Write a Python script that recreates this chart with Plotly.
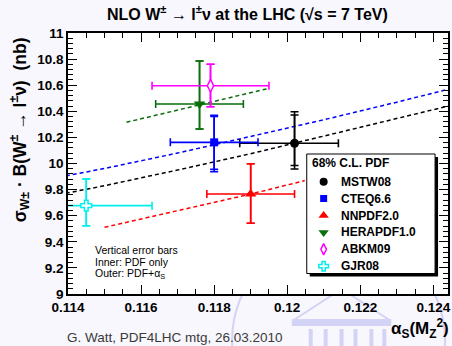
import plotly.graph_objects as go

# ---- data -------------------------------------------------------------
pdf_sets = ["MSTW08", "CTEQ6.6", "NNPDF2.0", "HERAPDF1.0", "ABKM09", "GJR08"]
alphas = [0.1202, 0.1180, 0.1190, 0.1176, 0.1179, 0.1145]
alphas_err_plus = [0.0012, 0.0012, 0.0012, 0.0012, 0.0016, 0.0018]
alphas_err_minus = [0.0015, 0.0012, 0.0012, 0.0012, 0.0016, 0.0018]
sigma_nb = [10.155, 10.162, 9.766, 10.456, 10.596, 9.677]
# outer: PDF + alpha_S, inner: PDF only
outer_plus = [0.242, 0.208, 0.232, 0.329, 0.164, 0.204]
outer_minus = [0.197, 0.225, 0.224, 0.192, 0.161, 0.154]
inner_plus = [0.217, 0.198, 0.232, 0.329, 0.164, 0.204]
inner_minus = [0.170, 0.207, 0.224, 0.192, 0.161, 0.154]

# alpha_S dependence of the cross section for each PDF set
mstw_as = [0.113, 0.115, 0.117, 0.119, 0.121, 0.123, 0.125]
mstw_sigma = [9.72, 9.83, 9.95, 10.075, 10.21, 10.345, 10.48]
cteq_as = [0.113, 0.115, 0.117, 0.119, 0.121, 0.123, 0.125]
cteq_sigma = [9.855, 9.962, 10.08, 10.205, 10.335, 10.47, 10.61]
nnpdf_as = [0.115, 0.117, 0.119, 0.121, 0.123]
nnpdf_sigma = [9.511, 9.637, 9.766, 9.905, 10.05]
hera_as = [0.1156, 0.1176, 0.1195]
hera_sigma = [10.316, 10.45, 10.576]

x_ticks = [0.114, 0.116, 0.118, 0.120, 0.122, 0.124]
x_ticktext = ["0.114", "0.116", "0.118", "0.12", "0.122", "0.124"]
y_ticks = [9.0, 9.2, 9.4, 9.6, 9.8, 10.0, 10.2, 10.4, 10.6, 10.8, 11.0]
y_ticktext = ["9", "9.2", "9.4", "9.6", "9.8", "10", "10.2", "10.4", "10.6", "10.8", "11"]

# ---- styles -----------------------------------------------------------
colors = ["#000000", "#0000ff", "#ff0000", "#0b6e0b", "#ff00ff", "#00eeee"]
symbols = ["circle", "square", "triangle-up", "triangle-down", "diamond-tall", "cross"]
sizes = [9, 8, 10, 10, 9, 9]
open_marker = [False, False, False, False, True, True]

W, H = 452, 346
L, R, T, B = 68, 450, 33, 294
FONT = "Liberation Sans"


def px_x(p):
    return (p - L) / (R - L)


def px_y(p):
    return (B - p) / (B - T)


def bold(labels):
    return ["<b>" + s + "</b>" for s in labels]


fig = go.Figure()

# dashed alpha_S-dependence curves
for xs, ys, col in [
    (hera_as, hera_sigma, colors[3]),
    (cteq_as, cteq_sigma, colors[1]),
    (mstw_as, mstw_sigma, colors[0]),
    (nnpdf_as, nnpdf_sigma, colors[2]),
]:
    fig.add_trace(go.Scatter(
        x=xs, y=ys, mode="lines", showlegend=False, hoverinfo="skip",
        line=dict(color=col, width=1.5, dash="4px,3px"),
    ))

# error bars (outer, then inner) and central points
for i, name in enumerate(pdf_sets):
    col = colors[i]
    fig.add_trace(go.Scatter(
        x=[alphas[i]], y=[sigma_nb[i]], mode="markers", showlegend=False,
        marker=dict(size=1, color="rgba(0,0,0,0)"),
        error_x=dict(type="data", symmetric=False,
                     array=[alphas_err_plus[i]], arrayminus=[alphas_err_minus[i]],
                     color=col, thickness=1.6, width=4),
        error_y=dict(type="data", symmetric=False,
                     array=[outer_plus[i]], arrayminus=[outer_minus[i]],
                     color=col, thickness=1.6, width=4),
    ))
    fig.add_trace(go.Scatter(
        x=[alphas[i]], y=[sigma_nb[i]], mode="markers", showlegend=False,
        marker=dict(size=1, color="rgba(0,0,0,0)"),
        error_y=dict(type="data", symmetric=False,
                     array=[inner_plus[i]], arrayminus=[inner_minus[i]],
                     color=col, thickness=1.6, width=4),
    ))
    if open_marker[i]:
        mk = dict(symbol=symbols[i], size=sizes[i], color="white",
                  line=dict(color=col, width=1.5))
    else:
        mk = dict(symbol=symbols[i], size=sizes[i], color=col,
                  line=dict(color=col, width=0))
    fig.add_trace(go.Scatter(
        x=[alphas[i]], y=[sigma_nb[i]], mode="markers", name=name,
        showlegend=False, marker=mk,
    ))

# legend drawn in its own pixel-scaled subplot
leg_x0, leg_x1, leg_y0, leg_y1 = 306, 441, 278, 152
row0, row_step = 181.7, 16.9
rows = [row0 + row_step * i for i in range(len(pdf_sets))]
for i, name in enumerate(pdf_sets):
    col = colors[i]
    if open_marker[i]:
        mk = dict(symbol=symbols[i], size=sizes[i] - 1, color="white",
                  line=dict(color=col, width=1.5))
    else:
        mk = dict(symbol=symbols[i], size=sizes[i] - 1, color=col,
                  line=dict(color=col, width=0))
    fig.add_trace(go.Scatter(
        x=[325], y=[rows[i]], xaxis="x2", yaxis="y2", mode="markers",
        showlegend=False, hoverinfo="skip", marker=mk,
    ))

shapes = []
wm = "#d3d3f5"
# faint logo in the page background
shapes.append(dict(type="circle", xref="paper", yref="paper", layer="below",
                   x0=px_x(233), x1=px_x(447), y0=px_y(233), y1=px_y(447),
                   line=dict(color=wm, width=2)))
roof = "M {:.4f},{:.4f} L {:.4f},{:.4f} L {:.4f},{:.4f}".format(
    px_x(295), px_y(320), px_x(343), px_y(289), px_x(391), px_y(320))
shapes.append(dict(type="path", xref="paper", yref="paper", layer="below",
                   path=roof, line=dict(color=wm, width=2)))
shapes.append(dict(type="rect", xref="paper", yref="paper", layer="below",
                   x0=px_x(293), x1=px_x(393), y0=px_y(326), y1=px_y(319),
                   fillcolor=wm, line=dict(width=0)))
for cx in [312, 327, 343, 357, 373, 386]:
    shapes.append(dict(type="rect", xref="paper", yref="paper", layer="below",
                       x0=px_x(cx - 2), x1=px_x(cx + 2), y0=px_y(350), y1=px_y(329),
                       fillcolor=wm, line=dict(width=0)))
# white frame interior over the logo
shapes.append(dict(type="rect", xref="paper", yref="paper", layer="below",
                   x0=0, x1=1, y0=0, y1=1, fillcolor="white", line=dict(width=0)))
# legend box with drop shadow
shapes.append(dict(type="rect", xref="x2", yref="y2", layer="below",
                   x0=311, x1=440, y0=157, y1=276.5, fillcolor="black",
                   line=dict(width=0)))
shapes.append(dict(type="rect", xref="x2", yref="y2", layer="below",
                   x0=308, x1=437, y0=154, y1=273.5, fillcolor="white",
                   line=dict(color="black", width=1)))

ann = []
ann.append(dict(text="<b>NLO W<sup>±</sup> → l<sup>±</sup>ν at the LHC (√s = 7 TeV)</b>",
                xref="paper", yref="paper", x=px_x(248), y=px_y(13),
                xanchor="center", yanchor="middle", showarrow=False,
                font=dict(family=FONT, size=16, color="black")))
ann.append(dict(text="<b>σ<sub>W±</sub> · B(W<sup>±</sup> → l<sup>±</sup>ν)  (nb)</b>",
                xref="paper", yref="paper", x=px_x(19), y=px_y(130),
                xanchor="center", yanchor="middle", textangle=-90, showarrow=False,
                font=dict(family=FONT, size=17.5, color="black")))
ann.append(dict(text="<b>α<sub>S</sub>(M<sub>Z</sub><sup>2</sup>)</b>",
                xref="paper", yref="paper", x=px_x(422), y=px_y(328),
                xanchor="center", yanchor="middle", showarrow=False,
                font=dict(family=FONT, size=17, color="black")))
ann.append(dict(text="G. Watt, PDF4LHC mtg, 26.03.2010",
                xref="paper", yref="paper", x=px_x(176), y=px_y(337),
                xanchor="center", yanchor="middle", showarrow=False,
                font=dict(family=FONT, size=13.5, color="#3a3a3a")))
for txt, yy in [("Vertical error bars", 250), ("Inner: PDF only", 262),
                ("Outer: PDF+α<sub>S</sub>", 274)]:
    ann.append(dict(text=txt, xref="paper", yref="paper", x=px_x(93), y=px_y(yy),
                    xanchor="left", yanchor="middle", showarrow=False,
                    font=dict(family=FONT, size=10.5, color="black")))
ann.append(dict(text="<b>68% C.L. PDF</b>", xref="x2", yref="y2", x=311, y=162.5,
                xanchor="left", yanchor="middle", showarrow=False,
                font=dict(family=FONT, size=12, color="black")))
for i, name in enumerate(pdf_sets):
    ann.append(dict(text="<b>" + name + "</b>", xref="x2", yref="y2", x=340, y=rows[i],
                    xanchor="left", yanchor="middle", showarrow=False,
                    font=dict(family=FONT, size=12, color="black")))

axis_common = dict(
    showline=True, linecolor="black", linewidth=1.5, mirror="ticks",
    ticks="inside", ticklen=9, tickwidth=1.2, tickcolor="black",
    showgrid=False, zeroline=False,
    tickfont=dict(family=FONT, size=13.5, color="black"),
)

fig.update_layout(
    width=W, height=H,
    margin=dict(l=L, r=W - R, t=T, b=H - B, pad=0),
    paper_bgcolor="#f7f7fd", plot_bgcolor="white",
    showlegend=False,
    xaxis=dict(range=[0.114, 0.1244], tickvals=x_ticks, ticktext=bold(x_ticktext),
               minor=dict(ticks="inside", ticklen=5, tickwidth=1, tickcolor="black",
                          dtick=0.0005, tick0=0.114),
               **axis_common),
    yaxis=dict(range=[9, 11], tickvals=y_ticks, ticktext=bold(y_ticktext),
               minor=dict(ticks="inside", ticklen=5, tickwidth=1, tickcolor="black",
                          dtick=0.04, tick0=9),
               **axis_common),
    xaxis2=dict(domain=[px_x(leg_x0), px_x(leg_x1)], range=[leg_x0, leg_x1],
                anchor="y2", visible=False, fixedrange=True),
    yaxis2=dict(domain=[px_y(leg_y0), px_y(leg_y1)], range=[leg_y0, leg_y1],
                anchor="x2", visible=False, fixedrange=True),
    shapes=shapes,
    annotations=ann,
)

fig.write_html("out.html")
